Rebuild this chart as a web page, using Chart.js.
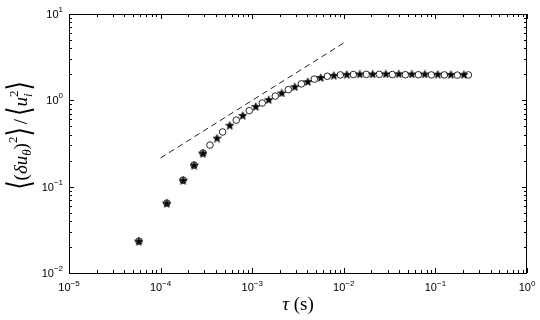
<!DOCTYPE html>
<html>
<head>
<meta charset="utf-8">
<script src="https://cdn.jsdelivr.net/npm/chart.js@4.4.1/dist/chart.umd.min.js"></script>
<style>
  html, body { margin: 0; padding: 0; background: #fff; }
  canvas { display: block; }
</style>
</head>
<body>
<canvas id="structChart" width="540" height="320"></canvas>
<script>
// time lag tau (s) and normalised structure function
const tauStars = [5.8e-5, 1.17e-4, 1.76e-4, 2.32e-4, 2.9e-4, 4.13e-4, 5.69e-4, 7.89e-4,
  1.094e-3, 1.517e-3, 2.10e-3, 2.92e-3, 4.05e-3, 5.61e-3, 7.78e-3, 1.079e-2, 1.496e-2,
  2.07e-2, 2.88e-2, 3.99e-2, 5.53e-2, 7.67e-2, 0.1064, 0.1476, 0.2046];
const valStars = [0.0234, 0.0645, 0.119, 0.178, 0.245, 0.366, 0.515, 0.67,
  0.85, 1.02, 1.22, 1.44, 1.65, 1.84, 1.95, 2.0, 2.02,
  2.02, 2.03, 2.03, 2.02, 2.02, 2.01, 2.0, 2.0];

const tauCircles = [5.8e-5, 1.17e-4, 1.76e-4, 2.32e-4, 2.9e-4, 3.46e-4, 4.75e-4, 6.70e-4,
  9.29e-4, 1.288e-3, 1.786e-3, 2.48e-3, 3.44e-3, 4.76e-3, 6.61e-3, 9.16e-3, 1.271e-2,
  1.762e-2, 2.44e-2, 3.39e-2, 4.70e-2, 6.52e-2, 9.04e-2, 0.1253, 0.1738, 0.229];
const valCircles = [0.0234, 0.0645, 0.119, 0.178, 0.245, 0.303, 0.43, 0.59,
  0.76, 0.93, 1.12, 1.33, 1.55, 1.76, 1.9, 1.97, 1.99,
  2.0, 2.0, 1.99, 1.98, 1.98, 1.97, 1.97, 1.96, 1.97];

// dashed tau^(2/3) guide line
const tauFit = [1e-4, 1e-2];
const valFit = [0.215, 4.63];

// tick labels (10^exp)
const xTicks = [1e-5, 1e-4, 1e-3, 1e-2, 1e-1, 1];
const xTickExp = ["\u22125", "\u22124", "\u22123", "\u22122", "\u22121", "0"];
const yTicks = [1e-2, 1e-1, 1, 10];
const yTickExp = ["\u22122", "\u22121", "0", "1"];

// filled pentagram marker
function makeStar(size) {
  const c = document.createElement("canvas");
  c.width = c.height = size;
  const g = c.getContext("2d");
  const cx = size / 2, cy = size / 2 + 0.5, R = size / 2 - 0.3, r = R * 0.42;
  g.beginPath();
  for (let i = 0; i < 10; i++) {
    const a = -Math.PI / 2 + i * Math.PI / 5;
    const rad = i % 2 ? r : R;
    g.lineTo(cx + rad * Math.cos(a), cy + rad * Math.sin(a));
  }
  g.closePath();
  g.fillStyle = "#000";
  g.fill();
  g.strokeStyle = "#000";
  g.lineWidth = 0.7;
  g.stroke();
  return c;
}

const pts = (xs, ys) => xs.map((v, i) => ({ x: v, y: ys[i] }));

// box, inward ticks and 10^n labels, drawn from the chart's scales
const frameAxes = {
  id: "frameAxes",
  afterDraw(chart) {
    const { ctx, chartArea: a, scales: { x, y } } = chart;
    ctx.save();
    ctx.strokeStyle = "#000";
    ctx.lineWidth = 1;
    ctx.strokeRect(Math.round(a.left) + 0.5, Math.round(a.top) + 0.5,
      Math.round(a.right - a.left) - 1, Math.round(a.bottom - a.top));

    ctx.beginPath();
    for (let e = -5; e <= 0; e++) {
      for (let m = 1; m <= 9; m++) {
        const v = m * Math.pow(10, e);
        if (v > 1.0001) break;
        const px = Math.round(x.getPixelForValue(v)) + 0.5;
        const len = m === 1 ? 5 : 3;
        ctx.moveTo(px, a.bottom); ctx.lineTo(px, a.bottom - len);
        ctx.moveTo(px, a.top); ctx.lineTo(px, a.top + len);
      }
    }
    for (let e = -2; e <= 1; e++) {
      for (let m = 1; m <= 9; m++) {
        const v = m * Math.pow(10, e);
        if (v > 10.0001) break;
        const py = Math.round(y.getPixelForValue(v)) + 0.5;
        const len = m === 1 ? 5 : 3;
        ctx.moveTo(a.left, py); ctx.lineTo(a.left + len, py);
        ctx.moveTo(a.right, py); ctx.lineTo(a.right - len, py);
      }
    }
    ctx.stroke();

    const baseFont = "11px 'Liberation Sans', Arial, sans-serif";
    const expFont = "8px 'Liberation Sans', Arial, sans-serif";
    ctx.fillStyle = "#000";
    ctx.textAlign = "left";
    ctx.textBaseline = "alphabetic";
    xTicks.forEach((v, i) => {
      const px = x.getPixelForValue(v);
      ctx.font = baseFont;
      const wb = ctx.measureText("10").width;
      ctx.font = expFont;
      const we = ctx.measureText(xTickExp[i]).width;
      const left = px - (wb + we) / 2;
      ctx.font = baseFont;
      ctx.fillText("10", left, a.bottom + 18);
      ctx.font = expFont;
      ctx.fillText(xTickExp[i], left + wb, a.bottom + 13);
    });
    yTicks.forEach((v, i) => {
      const py = y.getPixelForValue(v);
      ctx.font = expFont;
      const we = ctx.measureText(yTickExp[i]).width;
      const right = a.left - 6;
      ctx.fillText(yTickExp[i], right - we, py - 2);
      ctx.font = baseFont;
      const wb = ctx.measureText("10").width;
      ctx.fillText("10", right - we - wb, py + 4);
    });

    // x title
    const serif = "'Liberation Serif', 'DejaVu Serif', serif";
    ctx.font = "italic 19px " + serif;
    const wt = ctx.measureText("\u03c4").width;
    ctx.font = "19px " + serif;
    const ws = ctx.measureText(" (s)").width;
    const cx = (a.left + a.right) / 2;
    ctx.font = "italic 19px " + serif;
    ctx.fillText("\u03c4", cx - (wt + ws) / 2, 310);
    ctx.font = "19px " + serif;
    ctx.fillText(" (s)", cx - (wt + ws) / 2 + wt, 310);

    // y title: <(du_theta)^2> / <u_i^2>
    const big = "24px 'DejaVu Sans', sans-serif";
    const rm = "19px " + serif, it = "italic 19px " + serif;
    const sm = "13px " + serif, smIt = "italic 13px " + serif;
    const parts = [
      { t: "\u27e8", f: big, dy: 1, sy: 1.35 },
      { t: "(", f: rm, dy: 0 },
      { t: "\u03b4", f: it, dy: 0 },
      { t: "u", f: it, dy: 0 },
      { t: "\u03b8", f: smIt, dy: 4 },
      { t: ")", f: rm, dy: 0 },
      { t: "2", f: sm, dy: -10 },
      { t: "\u27e9", f: big, dy: 1, sy: 1.35 },
      { t: "/", f: rm, dy: 0, pad: 3 },
      { t: "\u27e8", f: big, dy: 1, sy: 1.35 },
      { t: "u", f: it, dy: 0 },
      { t: "2", f: sm, dy: -9, stack: true },
      { t: "i", f: smIt, dy: 5, stack: true },
      { t: "\u27e9", f: big, dy: 1, sy: 1.35 }
    ];
    let total = 0;
    parts.forEach(p => {
      ctx.font = p.f;
      p.w = ctx.measureText(p.t).width + (p.pad || 0) * 2;
    });
    parts.forEach((p, i) => {
      if (p.stack && parts[i + 1] && parts[i + 1].stack) return;
      total += p.stack ? Math.max(p.w, parts[i - 1].w) : p.w;
    });
    ctx.translate(20, (a.top + a.bottom) / 2 - 8);
    ctx.rotate(-Math.PI / 2);
    let pos = -total / 2;
    const base = 7;
    parts.forEach((p, i) => {
      ctx.font = p.f;
      if (p.sy) {
        // stretched angle bracket, centred on the math axis
        ctx.save();
        ctx.translate(pos, base - 6);
        ctx.scale(1, p.sy);
        ctx.fillText(p.t, 0, 6 + p.dy);
        ctx.restore();
      } else {
        ctx.fillText(p.t, pos + (p.pad || 0), base + p.dy);
      }
      if (p.stack && parts[i + 1] && parts[i + 1].stack) return;
      pos += p.stack ? Math.max(p.w, parts[i - 1].w) : p.w;
    });
    ctx.restore();
  }
};

new Chart(document.getElementById("structChart"), {
  type: "scatter",
  data: {
    datasets: [
      {
        label: "fit",
        data: pts(tauFit, valFit),
        showLine: true,
        borderColor: "#222",
        borderWidth: 1,
        borderDash: [6, 4],
        pointRadius: 0,
        order: 3
      },
      {
        label: "circles",
        data: pts(tauCircles, valCircles),
        pointStyle: "circle",
        pointRadius: 3.3,
        borderColor: "#111",
        borderWidth: 0.9,
        backgroundColor: "rgba(0,0,0,0)",
        order: 2
      },
      {
        label: "stars",
        data: pts(tauStars, valStars),
        pointStyle: makeStar(9),
        pointRadius: 4,
        borderColor: "#000",
        backgroundColor: "#000",
        order: 1
      }
    ]
  },
  options: {
    responsive: false,
    animation: false,
    layout: { padding: { left: 69, right: 13, top: 14, bottom: 47 } },
    plugins: { legend: { display: false }, tooltip: { enabled: false } },
    scales: {
      x: { type: "logarithmic", min: 1e-5, max: 1, display: false },
      y: { type: "logarithmic", min: 1e-2, max: 10, display: false }
    }
  },
  plugins: [frameAxes]
});
</script>
</body>
</html>
